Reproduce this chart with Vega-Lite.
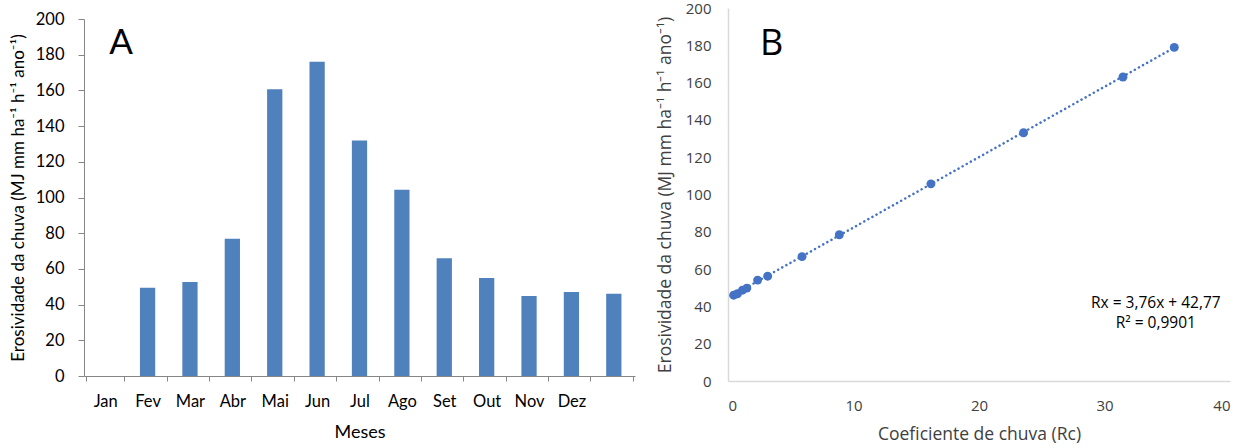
{
  "$schema": "https://vega.github.io/schema/vega-lite/v6.json",
  "background": "white",
  "padding": {"left": 9, "top": 1, "right": 5, "bottom": 0},
  "config": {"view": {"stroke": null}, "axis": {"labelOverlap": false, "grid": false, "titleFontWeight": "normal"}},
  "spacing": 21,
  "hconcat": [
    {
      "width": 551,
      "height": 373,
      "layer": [
        {
          "data": {"values": [
            {"mes": "Fev", "valor": 49.5},
            {"mes": "Mar", "valor": 52.7},
            {"mes": "Abr", "valor": 76.9},
            {"mes": "Mai", "valor": 160.6},
            {"mes": "Jun", "valor": 176.1},
            {"mes": "Jul", "valor": 132.0},
            {"mes": "Ago", "valor": 104.4},
            {"mes": "Set", "valor": 65.9},
            {"mes": "Out", "valor": 54.9},
            {"mes": "Nov", "valor": 44.8},
            {"mes": "Dez", "valor": 47.1},
            {"mes": " ", "valor": 46.1}
          ]},
          "mark": {"type": "bar", "color": "#4F81BD", "width": {"band": 0.4}},
          "encoding": {
            "x": {
              "field": "mes", "type": "nominal", "sort": null,
              "scale": {"domain": ["Jan", "Fev", "Mar", "Abr", "Mai", "Jun", "Jul", "Ago", "Set", "Out", "Nov", "Dez", " "]},
              "axis": {
                "title": "Meses", "labelAngle": 0, "tickBand": "extent", "offset": -5,
                "domainColor": "#868686", "tickColor": "#868686", "tickSize": 5,
                "labelPadding": 12, "titlePadding": 14,
                "labelFont": "Lato", "titleFont": "Lato",
                "labelFontSize": 16.5, "titleFontSize": 18,
                "labelColor": "#000000", "titleColor": "#000000"
              }
            },
            "y": {
              "field": "valor", "type": "quantitative",
              "scale": {"domain": [0, 200], "nice": false, "range": [368, 11]},
              "axis": {
                "title": "Erosividade da chuva (MJ mm ha⁻¹ h⁻¹ ano⁻¹)",
                "tickCount": 10,
                "labelOverlap": false,
                "domainColor": "#868686", "tickColor": "#868686", "tickSize": 6,
                "labelPadding": 14, "titlePadding": 8,
                "labelFont": "Lato", "titleFont": "Lato",
                "labelFontSize": 16.5, "titleFontSize": 17,
                "labelColor": "#000000", "titleColor": "#000000"
              }
            }
          }
        },
        {
          "data": {"values": [{}]},
          "mark": {"type": "text", "text": "A", "font": "Lato", "fontSize": 35, "align": "center", "baseline": "alphabetic", "color": "#000000"},
          "encoding": {
            "x": {"datum": "Jan", "type": "nominal", "bandPosition": 0.92},
            "y": {"datum": 180.2, "type": "quantitative"}
          }
        }
      ]
    },
    {
      "width": 502,
      "height": 373,
      "layer": [
        {
          "data": {"values": [
            {"rc": 0.4, "rx": 46.1},
            {"rc": 35.6, "rx": 178.9}
          ]},
          "mark": {"type": "line", "color": "#4472C4", "strokeWidth": 2.5, "strokeDash": [0.1, 4.6], "strokeCap": "round"},
          "encoding": {
            "x": {
              "field": "rc", "type": "quantitative",
              "scale": {"domain": [0, 40], "nice": false},
              "axis": {
                "title": "Coeficiente de chuva (Rc)",
                "tickCount": 4,
                "labelOverlap": false,
                "ticks": false,
                "domainColor": "#D9D9D9", "domainWidth": 1.5,
                "labelPadding": 17, "titlePadding": 12,
                "labelFont": "Open Sans", "titleFont": "Open Sans",
                "labelFontSize": 15, "titleFontSize": 17.5,
                "labelColor": "#404040", "titleColor": "#404040"
              }
            },
            "y": {
              "field": "rx", "type": "quantitative",
              "scale": {"domain": [0, 200], "nice": false},
              "axis": {
                "title": "Erosividade da chuva (MJ mm ha⁻¹ h⁻¹ ano⁻¹)",
                "tickCount": 10,
                "labelOverlap": false,
                "ticks": false,
                "domainColor": "#D9D9D9", "domainWidth": 1.5,
                "labelPadding": 17, "titlePadding": 11,
                "labelFont": "Open Sans", "titleFont": "Open Sans",
                "labelFontSize": 15, "titleFontSize": 17.5,
                "labelColor": "#404040", "titleColor": "#404040"
              }
            }
          }
        },
        {
          "data": {"values": [
            {"rc": 0.45, "rx": 46.0},
            {"rc": 0.75, "rx": 46.8},
            {"rc": 1.15, "rx": 48.7},
            {"rc": 1.5, "rx": 49.8},
            {"rc": 2.36, "rx": 54.1},
            {"rc": 3.16, "rx": 56.2},
            {"rc": 5.9, "rx": 66.7},
            {"rc": 8.87, "rx": 78.4},
            {"rc": 16.17, "rx": 105.7},
            {"rc": 23.55, "rx": 133.1},
            {"rc": 31.47, "rx": 163.0},
            {"rc": 35.56, "rx": 178.9}
          ]},
          "mark": {"type": "circle", "color": "#4472C4", "size": 80, "opacity": 1},
          "encoding": {
            "x": {"field": "rc", "type": "quantitative"},
            "y": {"field": "rx", "type": "quantitative"}
          }
        },
        {
          "data": {"values": [{}]},
          "mark": {"type": "text", "text": ["Rx = 3,76x + 42,77", "R² = 0,9901"], "lineHeight": 20, "font": "Open Sans", "fontSize": 15.5, "align": "center", "baseline": "alphabetic", "color": "#000000"},
          "encoding": {
            "x": {"datum": 34.09, "type": "quantitative"},
            "y": {"datum": 39.3, "type": "quantitative"}
          }
        },
        {
          "data": {"values": [{}]},
          "mark": {"type": "text", "text": "B", "font": "Open Sans", "fontSize": 36, "align": "center", "baseline": "alphabetic", "color": "#000000"},
          "encoding": {
            "x": {"datum": 3.47, "type": "quantitative"},
            "y": {"datum": 175, "type": "quantitative"}
          }
        }
      ]
    }
  ]
}
